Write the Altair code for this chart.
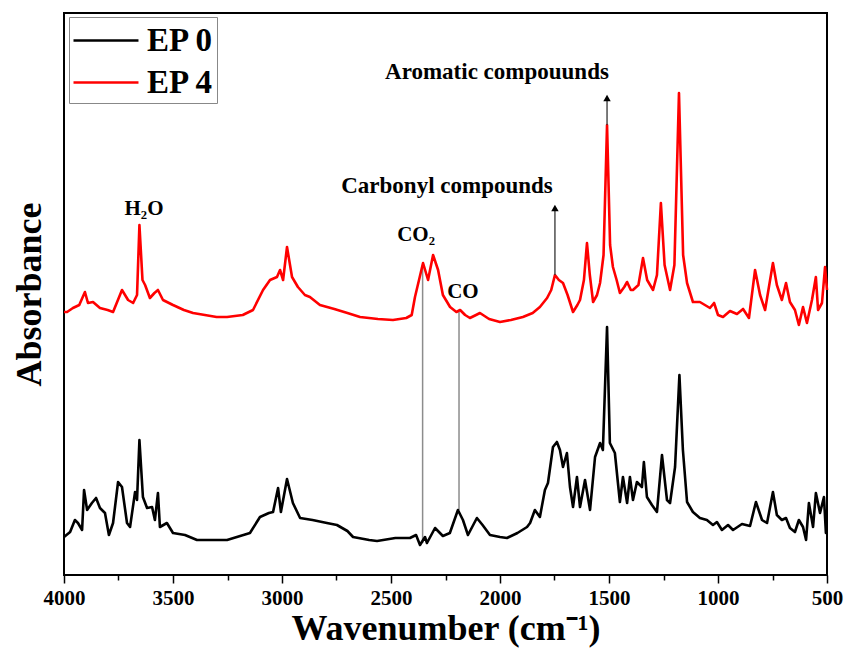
import altair as alt
import pandas as pd

# ---------------- data ----------------
ep4_wn = [4000, 3986, 3959, 3930, 3904, 3890, 3867, 3835, 3800, 3775, 3734, 3706, 3683,
          3665, 3654, 3640, 3628, 3606, 3585, 3569, 3546, 3500, 3450, 3408, 3300, 3252,
          3180, 3133, 3087, 3055, 3023, 3009, 2995, 2977, 2954, 2927, 2895, 2872, 2826,
          2760, 2700, 2642, 2560, 2491, 2430, 2405, 2390, 2353, 2330, 2307, 2284, 2262,
          2229, 2200, 2183, 2160, 2138, 2110, 2092, 2050, 2000, 1950, 1895, 1850, 1817,
          1784, 1765, 1748, 1730, 1711, 1690, 1665, 1645, 1633, 1615, 1601, 1588, 1573,
          1555, 1541, 1525, 1509, 1495, 1482, 1465, 1450, 1430, 1417, 1400, 1390, 1365,
          1344, 1325, 1298, 1280, 1262, 1245, 1220, 1200, 1179, 1160, 1142, 1115, 1083,
          1060, 1037, 1018, 1000, 977, 945, 913, 885, 858, 830, 807, 784, 748, 730, 707,
          688, 670, 647, 629, 610, 592, 569, 551, 541, 523, 509, 500]
ep4_abs = [2.63, 2.63, 2.67, 2.70, 2.83, 2.72, 2.73, 2.67, 2.65, 2.63, 2.85, 2.75, 2.72,
           2.80, 3.50, 2.95, 2.90, 2.77, 2.82, 2.85, 2.75, 2.70, 2.65, 2.62, 2.58, 2.58,
           2.60, 2.65, 2.85, 2.95, 2.98, 3.05, 2.95, 3.28, 2.98, 2.88, 2.80, 2.78, 2.70,
           2.66, 2.62, 2.58, 2.56, 2.55, 2.57, 2.60, 2.78, 3.12, 2.95, 3.20, 3.05, 2.80,
           2.68, 2.63, 2.65, 2.60, 2.57, 2.60, 2.62, 2.56, 2.53, 2.55, 2.58, 2.62, 2.68,
           2.77, 2.85, 3.00, 2.95, 2.92, 2.80, 2.63, 2.70, 2.75, 2.95, 3.32, 3.00, 2.73,
           2.80, 2.92, 3.20, 4.50, 3.30, 3.08, 2.95, 2.82, 2.88, 2.93, 2.85, 2.85, 2.90,
           3.17, 2.95, 2.85, 3.00, 3.72, 3.10, 2.85, 3.10, 4.82, 3.20, 2.92, 2.73, 2.73,
           2.70, 2.67, 2.72, 2.60, 2.58, 2.64, 2.61, 2.66, 2.57, 3.05, 2.80, 2.65, 3.12,
           2.90, 2.75, 2.92, 2.73, 2.65, 2.50, 2.68, 2.52, 2.75, 2.98, 2.65, 2.72, 3.08,
           2.85]

ep0_wn = [4000, 3972, 3950, 3936, 3917, 3908, 3894, 3872, 3853, 3835, 3812, 3794, 3775,
          3752, 3734, 3711, 3697, 3674, 3665, 3654, 3638, 3619, 3596, 3583, 3569, 3560,
          3528, 3500, 3445, 3390, 3300, 3252, 3147, 3101, 3060, 3041, 3018, 3005, 2977,
          2950, 2917, 2860, 2794, 2748, 2700, 2674, 2600, 2564, 2480, 2413, 2385, 2367,
          2344, 2335, 2298, 2262, 2230, 2193, 2170, 2147, 2106, 2080, 2046, 2000, 1968,
          1920, 1876, 1862, 1840, 1817, 1794, 1780, 1757, 1739, 1725, 1711, 1693, 1679,
          1665, 1647, 1633, 1610, 1587, 1564, 1541, 1528, 1509, 1496, 1473, 1459, 1450,
          1436, 1417, 1404, 1390, 1372, 1349, 1340, 1326, 1303, 1280, 1257, 1234, 1220,
          1197, 1177, 1161, 1142, 1115, 1083, 1051, 1023, 1005, 982, 954, 931, 890, 853,
          826, 798, 775, 748, 730, 707, 688, 670, 647, 629, 610, 596, 583, 564, 551, 532,
          514, 505, 500]
ep0_abs = [0.38, 0.43, 0.55, 0.52, 0.45, 0.85, 0.65, 0.72, 0.77, 0.67, 0.62, 0.40, 0.52,
           0.93, 0.88, 0.52, 0.48, 0.83, 0.75, 1.35, 0.78, 0.67, 0.68, 0.55, 0.82, 0.48,
           0.52, 0.42, 0.40, 0.35, 0.35, 0.35, 0.42, 0.58, 0.62, 0.63, 0.87, 0.63, 0.96,
           0.72, 0.57, 0.55, 0.52, 0.50, 0.44, 0.38, 0.35, 0.34, 0.37, 0.37, 0.40, 0.30,
           0.38, 0.32, 0.47, 0.39, 0.42, 0.65, 0.55, 0.40, 0.57, 0.50, 0.40, 0.38, 0.37,
           0.42, 0.48, 0.52, 0.65, 0.58, 0.85, 0.92, 1.28, 1.33, 1.25, 1.08, 1.22, 0.88,
           0.68, 0.98, 0.68, 0.95, 0.65, 1.18, 1.32, 1.25, 2.48, 1.32, 1.22, 0.92, 0.73,
           0.98, 0.72, 0.98, 0.75, 0.93, 0.88, 1.13, 0.78, 0.70, 0.63, 1.20, 0.75, 0.72,
           1.08, 2.00, 1.25, 0.73, 0.63, 0.57, 0.55, 0.50, 0.53, 0.45, 0.50, 0.45, 0.51,
           0.49, 0.73, 0.55, 0.52, 0.83, 0.60, 0.55, 0.57, 0.47, 0.43, 0.55, 0.48, 0.35,
           0.72, 0.48, 0.82, 0.62, 0.78, 0.42, 0.42]

series_names = ["EP 0", "EP 4"]
series_colors = ["#000000", "#ff0000"]

x_ticks = [4000, 3750, 3500, 3250, 3000, 2750, 2500, 2250, 2000, 1750, 1500, 1250, 1000, 750, 500]

# annotation labels
label_text = ["H\u2082O", "CO\u2082", "CO"]
label_wn = [3633, 2385, 2170]
label_abs = [3.66, 3.40, 2.83]

compound_text = ["Carbonyl compounds", "Aromatic compouunds"]
compound_wn = [2243, 2014]
compound_abs = [3.89, 5.03]

# arrows: from peak up to head
arrow_wn = [1748, 1509]
arrow_from = [3.00, 4.50]
arrow_to = [3.67, 4.77]

# grey vertical marker lines (CO2, CO)
marker_wn = [2355, 2188]
marker_top = [3.10, 2.63]
marker_bottom = [0.32, 0.65]

# ---------------- tables ----------------
spec = pd.concat([
    pd.DataFrame({"wn": ep0_wn, "abs": ep0_abs, "series": "EP 0"}),
    pd.DataFrame({"wn": ep4_wn, "abs": ep4_abs, "series": "EP 4"}),
], ignore_index=True)
labels_df = pd.DataFrame({"t": label_text, "wn": label_wn, "abs": label_abs})
comp_df = pd.DataFrame({"t": compound_text, "wn": compound_wn, "abs": compound_abs})
arrow_df = pd.DataFrame({"wn": arrow_wn, "a0": arrow_from, "a1": arrow_to})
marker_df = pd.DataFrame({"wn": marker_wn, "a0": marker_top, "a1": marker_bottom})

xscale = alt.Scale(domain=[4000, 500], nice=False, zero=False)
yscale = alt.Scale(domain=[0, 5.62], nice=False, zero=False)

xaxis = alt.Axis(
    values=x_ticks,
    labelExpr="datum.value % 500 === 0 ? datum.value : ''",
    tickSize={"condition": {"test": "datum.value % 500 === 0", "value": 8}, "value": 5},
    tickColor="black", tickWidth=1.5, domain=False, grid=False,
    labelFont="Liberation Sans Narrow", labelFontWeight="bold", labelFontSize=21,
    labelColor="black", labelPadding=4, labelOverlap=False, labelFlush=False,
    title="Wavenumber (cm\u207b\u00b9)", titleFont="Liberation Serif",
    titleFontWeight="bold", titleFontSize=36, titleColor="black", titlePadding=3,
)
yaxis = alt.Axis(
    labels=False, ticks=False, domain=False, grid=False,
    title="Absorbance", titleFont="Liberation Serif", titleFontWeight="bold",
    titleFontSize=36, titleColor="black", titlePadding=16,
)

X = alt.X("wn:Q", scale=xscale, axis=xaxis)

lines = alt.Chart(spec).mark_line(strokeWidth=2.6, strokeJoin="round").encode(
    x=X,
    y=alt.Y("abs:Q", scale=yscale, axis=yaxis),
    color=alt.Color(
        "series:N",
        scale=alt.Scale(domain=series_names, range=series_colors),
        legend=alt.Legend(
            title=None, orient="none", legendX=5, legendY=4,
            symbolType="M-1,0H2.42", symbolSize=1444, symbolStrokeWidth=2.5,
            labelFont="Liberation Serif", labelFontWeight="bold", labelFontSize=33,
            labelColor="black", labelOffset=34, rowPadding=4, padding=3,
            strokeColor="#888888", fillColor="white", labelLimit=300,
        ),
    ),
)

markers = alt.Chart(marker_df).mark_rule(color="#8c8c8c", strokeWidth=1.5).encode(
    x=alt.X("wn:Q", scale=xscale), y=alt.Y("a0:Q", scale=yscale), y2="a1:Q"
)

arrow_lines = alt.Chart(arrow_df).mark_rule(color="#333333", strokeWidth=1.3).encode(
    x=alt.X("wn:Q", scale=xscale), y=alt.Y("a0:Q", scale=yscale), y2="a1:Q"
)
arrow_heads = alt.Chart(arrow_df).mark_point(
    shape="triangle-up", filled=True, color="black", size=55, opacity=1
).encode(x=alt.X("wn:Q", scale=xscale), y=alt.Y("a1:Q", scale=yscale))

small_labels = alt.Chart(labels_df).mark_text(
    font="Liberation Serif", fontWeight="bold", fontSize=21, color="black",
    align="center", baseline="middle"
).encode(x=alt.X("wn:Q", scale=xscale), y=alt.Y("abs:Q", scale=yscale), text="t:N")

comp_labels = alt.Chart(comp_df).mark_text(
    font="Liberation Serif", fontWeight="bold", fontSize=23, color="black",
    align="center", baseline="middle"
).encode(x=alt.X("wn:Q", scale=xscale), y=alt.Y("abs:Q", scale=yscale), text="t:N")

chart = alt.layer(
    markers, lines, arrow_lines, arrow_heads, small_labels, comp_labels
).properties(
    width=763, height=562,
    autosize=alt.AutoSizeParams(type="none"),
    padding={"left": 64, "top": 13, "right": 24, "bottom": 97},
    background="white",
).configure_view(stroke="black", strokeWidth=2)

chart.save("out.html", embed_options={"renderer": "svg", "actions": False})
